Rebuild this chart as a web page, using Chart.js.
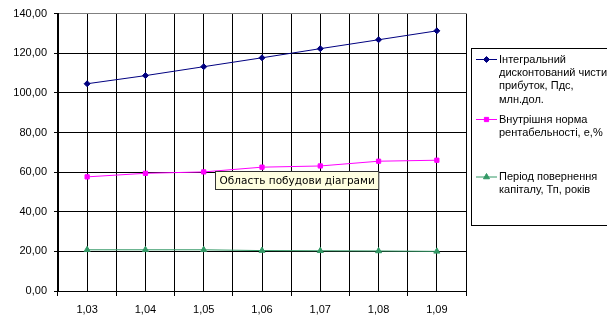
<!DOCTYPE html>
<html><head><meta charset="utf-8">
<script src="https://cdn.jsdelivr.net/npm/chart.js@4"></script>
<style>html,body{margin:0;padding:0;background:#fff}#wrap{width:607px;height:321px}</style>
</head><body><div id="wrap"><canvas id="c" width="607" height="321"></canvas></div>
<script>
const categories = ['1,03','1,04','1,05','1,06','1,07','1,08','1,09'];
const npvValues = [104.6,108.7,113.2,117.7,122.3,126.8,131.3];
const irrValues = [57.6,59.4,60.1,62.5,63.1,65.5,66.0];
const paybackValues = [20.8,20.8,20.8,20.4,20.3,20.2,20.0];
const yMin = 0, yMax = 140, yStep = 20;
const seriesLabels = [
  ['Інтегральний','дисконтований чистий','прибуток, Пдс,','млн.дол.'],
  ['Внутрішня норма','рентабельності, е,%'],
  ['Період повернення','капіталу, Тп, років']
];
const plotAreaHint = 'Область побудови діаграми';

const FONT = 'Liberation Sans, Arial, sans-serif';

const legendPlugin = {
  id: 'xlLegend',
  afterDraw(chart) {
    const ctx = chart.ctx;
    ctx.save();
    ctx.strokeStyle = '#000';
    ctx.lineWidth = 1;
    ctx.strokeRect(471.5, 48.5, 200, 177);
    const firstY = [59.5, 119.5, 177];
    const lh = 13.4;
    chart.data.datasets.forEach((ds, i) => {
      const y = firstY[i];
      ctx.strokeStyle = ds.borderColor;
      ctx.lineWidth = 1;
      ctx.beginPath(); ctx.moveTo(476, y); ctx.lineTo(497, y); ctx.stroke();
      ctx.fillStyle = ds.borderColor;
      Chart.helpers.drawPoint(ctx, {pointStyle: ds.pointStyle, radius: ds.pointRadius, borderWidth: 1}, 486.5, y);
      ctx.fillStyle = '#000';
      ctx.font = '11px ' + FONT;
      ctx.textBaseline = 'middle';
      ctx.textAlign = 'left';
      seriesLabels[i].forEach((t, k) => ctx.fillText(t, 499, y + k * lh));
    });
    // plot-area hint box
    ctx.font = '10.5px DejaVu Sans, sans-serif';
    const w = ctx.measureText(plotAreaHint).width;
    ctx.fillStyle = '#FFFFE1';
    ctx.fillRect(215.5, 171.5, w + 8, 18);
    ctx.strokeStyle = '#333';
    ctx.strokeRect(215.5, 171.5, w + 8, 18);
    ctx.fillStyle = '#000';
    ctx.textBaseline = 'middle';
    ctx.fillText(plotAreaHint, 219.5, 181);
    ctx.restore();
  }
};

function mk(label, data, color, style, r) {
  return {label, data, borderColor: color, backgroundColor: color, borderWidth: 1,
    pointStyle: style, pointRadius: r, pointHoverRadius: r, pointBorderWidth: 1, tension: 0};
}

new Chart(document.getElementById('c'), {
  type: 'line',
  data: {
    labels: categories,
    datasets: [
      mk(seriesLabels[0].join(' '), npvValues, '#000080', 'rectRot', 3),
      mk(seriesLabels[1].join(' '), irrValues, '#FF00FF', 'rect', 3),
      mk(seriesLabels[2].join(' '), paybackValues, '#339966', 'triangle', 3.5)
    ]
  },
  options: {
    responsive: false,
    animation: false,
    devicePixelRatio: 1,
    layout: {padding: {top: 13, right: 141, left: 0, bottom: 0}},
    plugins: {legend: {display: false}, tooltip: {enabled: false}},
    scales: {
      x: {
        type: 'category', offset: true, position: 'bottom',
        grid: {offset: true, color: c => c.index === categories.length ? '#808080' : '#000', tickColor: '#000', tickLength: 5, lineWidth: 1},
        border: {color: '#000'},
        ticks: {color: '#000', font: {family: FONT, size: 11}, padding: 7, maxRotation: 0},
        afterFit: s => { s.height = 30; }
      },
      x2: {
        type: 'category', labels: categories, offset: true, position: 'bottom',
        grid: {offset: false, color: '#000', drawTicks: false, lineWidth: 1},
        border: {display: false},
        ticks: {display: false},
        afterFit: s => { s.height = 0; }
      },
      y: {
        min: yMin, max: yMax,
        grid: {color: c => c.tick && c.tick.value === yMax ? '#808080' : '#000', tickColor: '#000', tickLength: 4, lineWidth: 1},
        border: {color: '#000'},
        ticks: {stepSize: yStep, color: '#000', font: {family: FONT, size: 11}, padding: 7,
          callback: v => v.toFixed(2).replace('.', ',')},
        afterFit: s => { s.width = 58; }
      }
    }
  },
  plugins: [legendPlugin]
});
</script>
</body></html>
